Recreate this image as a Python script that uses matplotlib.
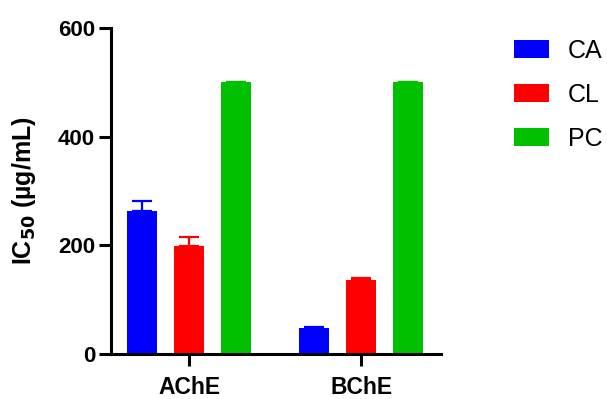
import numpy as np
import matplotlib
matplotlib.use("Agg")
from matplotlib import pyplot as plt

plt.rcParams['font.family'] = ['Liberation Sans', 'DejaVu Sans']

# data
enzymes = ["AChE", "BChE"]
series = ["CA", "CL", "PC"]
colors = ["#0000FF", "#FF0000", "#00C000"]
ca_vals = [263, 47]
cl_vals = [199, 136]
pc_vals = [500, 500]
ca_err = [19, 2]
cl_err = [16, 4]
pc_err = [0, 0]

values = [ca_vals, cl_vals, pc_vals]
errors = [ca_err, cl_err, pc_err]

fig = plt.figure(figsize=(6.07, 3.99), dpi=100)
ax = fig.add_axes([0.183, 0.1128, 0.5437, 0.817])

x = np.arange(len(enzymes))
width = 0.178
offset = 0.273

for i in range(len(series)):
    pos = x + (i - 1) * offset
    ax.bar(pos, values[i], width=width, color=colors[i], label=series[i], zorder=2)
    ax.errorbar(pos, values[i], yerr=[np.zeros(len(enzymes)), errors[i]],
                fmt="none", ecolor=colors[i], elinewidth=1.6, capsize=7.5,
                capthick=1.6, zorder=1)

ax.set_xlim(-0.453, 1.465)
ax.set_ylim(0, 600)
ax.set_yticks([0, 200, 400, 600])
ax.set_xticks(x)
ax.set_xticklabels(enzymes)

for s in ["top", "right"]:
    ax.spines[s].set_visible(False)
for s in ["left", "bottom"]:
    ax.spines[s].set_linewidth(2.2)

ax.tick_params(axis="both", width=2.2, length=8.5)
ax.tick_params(axis="y", labelsize=16, pad=3)
ax.tick_params(axis="x", labelsize=16.5, pad=7)
for lab in ax.get_xticklabels() + ax.get_yticklabels():
    lab.set_fontweight("bold")

ax.set_ylabel("IC$_{\\mathbf{50}}$ (µg/mL)", fontsize=18, fontweight="bold")
ax.yaxis.set_label_coords(-0.222, 0.5)

fig.legend(loc="upper left", bbox_to_anchor=(0.83, 0.928), frameon=False,
           fontsize=18, handlelength=1.4, handleheight=0.7,
           handletextpad=0.76, labelspacing=0.8, borderaxespad=0)

fig.savefig("out.png", dpi=100)
